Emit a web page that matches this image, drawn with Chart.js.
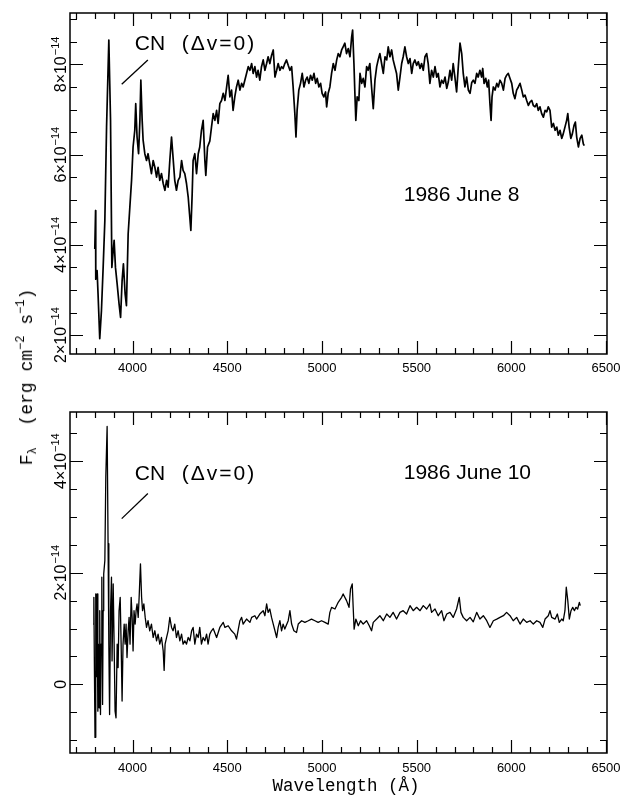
<!DOCTYPE html>
<html>
<head>
<meta charset="utf-8">
<script src="https://cdn.jsdelivr.net/npm/chart.js@4"></script>
<style>
  html, body { margin: 0; padding: 0; background: #fff; }
  body { position: relative; width: 623px; height: 795px; overflow: hidden; }
  canvas { position: absolute; left: 0; }
  #june8 { top: 0; }
  #june10 { top: 395px; }
  #fluxTitle {
    position: absolute; left: 28px; top: 377px;
    transform: translate(-50%, -50%) rotate(-90deg);
    font: 18px "Liberation Mono", monospace; line-height: 20px;
    white-space: pre; color: #000;
  }
  #fluxTitle sub, #fluxTitle sup { font-size: 12px; position: relative; vertical-align: baseline; }
  #fluxTitle sup { top: -0.7em; }
  #fluxTitle sub { top: 0.35em; }
  #waveTitle {
    position: absolute; left: 346px; top: 776px;
    transform: translateX(-50%);
    font: 17.5px "Liberation Mono", monospace; line-height: 20px;
    white-space: pre; color: #000;
  }
</style>
</head>
<body>
<canvas id="june8" width="623" height="395"></canvas>
<canvas id="june10" width="623" height="400"></canvas>
<div id="fluxTitle">F<sub>λ</sub>  (erg cm<sup>−2</sup> s<sup>−1</sup>)</div>
<div id="waveTitle">Wavelength (Å)</div>

<script>
/* ============================================================
   Two spectra, 1986 June 8 and June 10
   flux in units of 1e-14 erg cm^-2 s^-1
   ============================================================ */

// axis ticks
const wavelengthTicks = [4000, 4500, 5000, 5500, 6000, 6500];
const wavelengthMinorStep = 100;
const juneEightFluxTicks = [2, 4, 6, 8];
const juneTenFluxTicks = [0, 2, 4];
const fluxMinorStep = 0.5;

// 1986 June 8
const juneEightWavelength = [
  3801, 3805, 3806, 3813, 3818, 3827, 3836, 3845, 3854, 3863,
  3875, 3884, 3891, 3898, 3903, 3910, 3919, 3929, 3937, 3945,
  3952, 3961, 3968, 3977, 3986, 3995, 4003, 4012, 4017, 4024,
  4032, 4039, 4044, 4051, 4056, 4065, 4074, 4082, 4091, 4100,
  4109, 4118, 4127, 4135, 4144, 4153, 4162, 4171, 4180, 4188,
  4197, 4206, 4214, 4223, 4232, 4241, 4250, 4259, 4267, 4276,
  4285, 4294, 4301, 4308, 4315, 4320, 4329, 4338, 4347, 4355,
  4364, 4373, 4382, 4387, 4396, 4408, 4417, 4426, 4435, 4444,
  4452, 4461, 4470, 4479, 4488, 4497, 4505, 4514, 4523, 4531,
  4540, 4549, 4558, 4567, 4576, 4584, 4593, 4602, 4611, 4620,
  4629, 4637, 4646, 4655, 4663, 4672, 4681, 4690, 4699, 4708,
  4716, 4725, 4734, 4743, 4752, 4761, 4769, 4778, 4787, 4795,
  4804, 4813, 4822, 4831, 4840, 4848, 4857, 4863, 4869, 4878,
  4887, 4896, 4905, 4914, 4922, 4931, 4940, 4949, 4958, 4967,
  4975, 4984, 4993, 5001, 5010, 5019, 5025, 5033, 5042, 5051,
  5060, 5069, 5078, 5086, 5095, 5104, 5112, 5121, 5130, 5139,
  5148, 5157, 5162, 5169, 5174, 5179, 5186, 5195, 5201, 5210,
  5218, 5227, 5236, 5244, 5253, 5262, 5271, 5280, 5289, 5297,
  5306, 5315, 5324, 5333, 5342, 5350, 5359, 5368, 5376, 5385,
  5394, 5403, 5412, 5421, 5429, 5438, 5447, 5456, 5465, 5474,
  5482, 5491, 5500, 5509, 5518, 5526, 5535, 5544, 5553, 5561,
  5570, 5579, 5588, 5597, 5606, 5614, 5623, 5632, 5641, 5650,
  5659, 5667, 5676, 5685, 5693, 5702, 5711, 5720, 5729, 5738,
  5746, 5755, 5764, 5773, 5782, 5791, 5799, 5808, 5817, 5825,
  5834, 5843, 5849, 5856, 5865, 5873, 5880, 5887, 5893, 5898,
  5905, 5914, 5923, 5931, 5940, 5949, 5958, 5967, 5975, 5984,
  5993, 6002, 6010, 6019, 6028, 6037, 6046, 6055, 6063, 6072,
  6081, 6090, 6099, 6108, 6116, 6125, 6134, 6142, 6151, 6160,
  6169, 6178, 6187, 6195, 6204, 6213, 6222, 6231, 6240, 6248,
  6257, 6266, 6274, 6283, 6292, 6298, 6305, 6314, 6322, 6331,
  6338, 6345, 6354, 6363, 6372, 6380, 6385
];
const juneEightFlux = [
  3.91, 4.76, 3.24, 3.43, 2.92, 1.92, 2.54, 3.50, 4.54, 6.61,
  8.54, 6.76, 3.50, 3.87, 4.10, 3.50, 3.13, 2.69, 2.39, 3.20,
  3.58, 2.91, 2.65, 4.24, 4.84, 5.43, 6.17, 6.54, 7.13, 6.39,
  6.02, 6.76, 7.65, 6.76, 6.32, 6.02, 5.87, 6.02, 5.80, 5.58,
  5.87, 5.72, 5.50, 5.72, 5.43, 5.58, 5.36, 5.21, 5.43, 5.28,
  5.87, 6.39, 5.94, 5.43, 5.21, 5.43, 5.50, 5.87, 5.65, 5.58,
  5.36, 5.06, 4.69, 4.32, 5.13, 5.87, 6.02, 5.58, 6.02, 6.17,
  6.54, 6.76, 5.87, 5.54, 6.17, 6.30, 6.61, 6.91, 6.76, 6.98,
  6.69, 7.13, 7.20, 7.36, 7.20, 7.50, 7.76, 7.28, 7.43, 6.98,
  7.28, 7.50, 7.65, 7.43, 7.58, 7.50, 7.65, 7.80, 7.95, 7.87,
  8.02, 7.80, 7.95, 7.72, 7.87, 7.65, 7.95, 8.10, 7.87, 8.02,
  8.17, 8.02, 8.20, 8.32, 7.72, 7.87, 8.02, 7.87, 7.95, 7.91,
  8.02, 8.10, 7.98, 7.87, 7.95, 7.50, 6.91, 6.39, 6.98, 7.43,
  7.58, 7.80, 7.50, 7.65, 7.72, 7.58, 7.76, 7.65, 7.80, 7.58,
  7.69, 7.50, 7.58, 7.36, 7.28, 7.39, 7.06, 7.36, 7.50, 7.80,
  8.02, 7.87, 8.10, 8.24, 8.17, 8.32, 8.39, 8.47, 8.24, 8.35,
  8.17, 8.61, 8.76, 8.02, 7.36, 6.76, 7.28, 7.20, 7.80, 7.58,
  7.69, 7.50, 7.95, 7.87, 8.02, 7.50, 7.02, 7.65, 7.95, 8.10,
  8.24, 8.02, 7.80, 8.17, 8.10, 8.39, 8.17, 8.32, 8.10, 7.95,
  7.80, 7.43, 7.72, 8.02, 8.17, 8.39, 8.17, 8.02, 8.13, 7.80,
  8.02, 8.10, 7.98, 8.06, 7.91, 8.02, 7.87, 8.17, 8.24, 8.02,
  7.58, 7.87, 7.72, 7.95, 7.72, 7.80, 7.50, 7.65, 7.58, 7.72,
  7.47, 7.61, 7.87, 7.65, 8.02, 7.72, 7.39, 7.95, 8.47, 8.24,
  7.80, 7.50, 7.72, 7.43, 7.36, 7.60, 7.65, 7.58, 7.80, 7.72,
  7.87, 7.72, 7.91, 7.58, 7.69, 7.50, 7.65, 7.13, 6.76, 7.28,
  7.50, 7.43, 7.58, 7.50, 7.65, 7.58, 7.43, 7.69, 7.76, 7.80,
  7.69, 7.58, 7.36, 7.24, 7.43, 7.50, 7.58, 7.43, 7.28, 7.32,
  7.20, 7.09, 7.17, 7.20, 7.09, 7.06, 7.13, 6.98, 7.06, 6.91,
  6.83, 6.98, 6.95, 7.06, 6.98, 6.61, 6.69, 6.54, 6.61, 6.43,
  6.54, 6.36, 6.46, 6.61, 6.76, 6.91, 6.61, 6.36, 6.46, 6.65,
  6.72, 6.39, 6.17, 6.36, 6.43, 6.24, 6.20
];

// 1986 June 10
const juneTenWavelength = [
  3792, 3796, 3799, 3802, 3806, 3810, 3813, 3817, 3820, 3824,
  3827, 3831, 3834, 3838, 3842, 3845, 3848, 3854, 3859, 3866,
  3871, 3875, 3879, 3884, 3889, 3892, 3898, 3903, 3908, 3913,
  3919, 3924, 3929, 3935, 3940, 3945, 3950, 3956, 3961, 3966,
  3971, 3977, 3982, 3987, 3993, 3998, 4003, 4008, 4014, 4019,
  4024, 4030, 4035, 4042, 4048, 4053, 4060, 4067, 4074, 4082,
  4091, 4100, 4109, 4118, 4127, 4135, 4144, 4153, 4162, 4167,
  4172, 4180, 4188, 4197, 4206, 4214, 4223, 4232, 4241, 4250,
  4259, 4267, 4276, 4285, 4294, 4303, 4312, 4320, 4329, 4338,
  4347, 4355, 4364, 4373, 4382, 4391, 4399, 4408, 4417, 4426,
  4444, 4461, 4479, 4488, 4505, 4523, 4540, 4549, 4567, 4576,
  4584, 4602, 4620, 4629, 4646, 4655, 4672, 4690, 4699, 4708,
  4716, 4725, 4734, 4743, 4752, 4761, 4769, 4778, 4787, 4795,
  4804, 4822, 4831, 4840, 4852, 4866, 4875, 4893, 4910, 4928,
  4945, 4963, 4980, 4998, 5016, 5033, 5042, 5051, 5069, 5086,
  5104, 5112, 5130, 5143, 5151, 5160, 5165, 5170, 5179, 5192,
  5204, 5218, 5236, 5250, 5262, 5271, 5289, 5306, 5324, 5342,
  5359, 5376, 5394, 5412, 5429, 5447, 5465, 5482, 5500, 5518,
  5535, 5553, 5570, 5579, 5597, 5614, 5632, 5644, 5659, 5676,
  5693, 5711, 5725, 5734, 5746, 5764, 5782, 5799, 5817, 5834,
  5852, 5870, 5887, 5905, 5923, 5940, 5958, 5975, 5993, 6010,
  6028, 6046, 6063, 6081, 6099, 6116, 6134, 6151, 6166, 6178,
  6195, 6204, 6213, 6231, 6243, 6253, 6266, 6274, 6283, 6290,
  6298, 6306, 6315, 6324, 6333, 6341, 6350, 6359, 6364
];
const juneTenFlux = [
  1.08, 1.56, 0.24, -0.95, 1.62, 0.14, 1.62, -0.48, 0.72, -0.42,
  1.32, -0.54, 0.72, 1.92, -0.36, 1.32, 1.98, 2.22, 3.72, 4.62,
  2.52, 0.72, -0.54, 1.32, 1.92, 0.42, 1.80, 0.72, -0.48, -0.60,
  0.72, 0.30, 1.32, 1.56, 0.72, -0.30, 0.72, 1.08, 0.72, 1.08,
  0.48, 0.96, 1.20, 0.72, 1.56, 1.20, 0.60, 1.32, 1.08, 1.32,
  1.44, 1.20, 1.56, 2.16, 1.56, 1.32, 1.44, 1.20, 1.02, 1.14,
  0.96, 1.08, 0.84, 0.96, 0.78, 0.90, 0.72, 0.84, 0.60, 0.25,
  0.72, 0.84, 0.96, 1.20, 1.02, 0.96, 1.08, 0.84, 0.96, 0.78,
  0.90, 0.72, 0.78, 0.72, 0.84, 0.78, 0.96, 1.02, 0.72, 0.90,
  0.84, 1.02, 0.72, 0.84, 0.78, 0.90, 0.72, 0.90, 0.96, 1.00,
  0.84, 1.02, 1.11, 1.02, 1.05, 0.96, 0.90, 0.81, 1.14, 1.20,
  1.08, 1.17, 1.11, 1.20, 1.23, 1.17, 1.26, 1.32, 1.23, 1.44,
  1.29, 1.35, 1.20, 1.08, 0.96, 0.84, 1.02, 1.14, 0.96, 1.08,
  0.99, 1.14, 1.32, 1.08, 0.96, 0.93, 1.08, 1.14, 1.11, 1.14,
  1.17, 1.14, 1.11, 1.14, 1.11, 1.08, 1.29, 1.38, 1.35, 1.47,
  1.56, 1.62, 1.50, 1.38, 1.71, 1.80, 1.38, 0.99, 1.17, 1.05,
  1.14, 1.08, 1.14, 1.05, 0.96, 1.11, 1.17, 1.23, 1.14, 1.26,
  1.20, 1.29, 1.17, 1.29, 1.32, 1.26, 1.41, 1.32, 1.38, 1.32,
  1.41, 1.35, 1.44, 1.29, 1.35, 1.23, 1.32, 1.14, 1.26, 1.29,
  1.20, 1.35, 1.56, 1.29, 1.20, 1.14, 1.20, 1.12, 1.29, 1.17,
  1.23, 1.14, 1.02, 1.14, 1.17, 1.20, 1.23, 1.29, 1.23, 1.14,
  1.20, 1.08, 1.17, 1.11, 1.14, 1.08, 1.14, 1.11, 1.02, 1.17,
  1.23, 1.32, 1.20, 1.17, 1.26, 1.11, 1.17, 1.14, 1.32, 1.74,
  1.50, 1.17, 1.32, 1.38, 1.32, 1.38, 1.35, 1.47, 1.41
];

const FONT = '"Liberation Sans", Arial, Helvetica, sans-serif';

function toPoints(xs, ys) {
  return xs.map((x, i) => ({ x: x, y: ys[i] }));
}

// ---- frame, inward ticks, tick labels and annotations ----
function drawFluxLabel(ctx, value, px, py) {
  ctx.save();
  ctx.translate(px, py);
  ctx.rotate(-Math.PI / 2);
  ctx.textAlign = 'left';
  ctx.textBaseline = 'alphabetic';
  const mainFont = '16px ' + FONT;
  const supFont = '11px ' + FONT;
  if (value === 0) {
    ctx.font = mainFont;
    const w = ctx.measureText('0').width;
    ctx.fillText('0', -w / 2, 0);
  } else {
    const base = value + '×10';
    const exp = '−14';
    ctx.font = mainFont;
    const w1 = ctx.measureText(base).width;
    ctx.font = supFont;
    const w2 = ctx.measureText(exp).width;
    const start = -(w1 + 1 + w2) / 2;
    ctx.font = mainFont;
    ctx.fillText(base, start, 0);
    ctx.font = supFont;
    ctx.fillText(exp, start + w1 + 1, -7);
  }
  ctx.restore();
}

function spectrumFrame(fluxTicks, labelGap, notes) {
  return {
    id: 'spectrumFrame',
    afterDraw(chart) {
      const ctx = chart.ctx;
      const a = chart.chartArea;
      const x = chart.scales.x;
      const y = chart.scales.y;
      ctx.save();
      ctx.strokeStyle = '#000';
      ctx.fillStyle = '#000';

      // box
      ctx.lineWidth = 1.5;
      ctx.strokeRect(a.left, a.top, a.right - a.left, a.bottom - a.top);

      ctx.lineWidth = 1.2;
      ctx.beginPath();
      // wavelength ticks, bottom and top
      const firstW = Math.ceil(x.min / wavelengthMinorStep) * wavelengthMinorStep;
      for (let w = firstW; w <= x.max; w += wavelengthMinorStep) {
        const px = Math.round(x.getPixelForValue(w)) + 0.5;
        const len = wavelengthTicks.includes(w) ? 13 : 6;
        ctx.moveTo(px, a.bottom); ctx.lineTo(px, a.bottom - len);
        ctx.moveTo(px, a.top); ctx.lineTo(px, a.top + len);
      }
      // flux ticks, left and right
      const firstF = Math.ceil(y.min / fluxMinorStep) * fluxMinorStep;
      for (let f = firstF; f <= y.max; f += fluxMinorStep) {
        const py = Math.round(y.getPixelForValue(f)) + 0.5;
        const major = Math.abs(f / 2 - Math.round(f / 2)) < 1e-6;
        const len = major ? 13 : 7;
        ctx.moveTo(a.left, py); ctx.lineTo(a.left + len, py);
        ctx.moveTo(a.right, py); ctx.lineTo(a.right - len, py);
      }
      ctx.stroke();

      // wavelength labels
      ctx.font = '13px ' + FONT;
      ctx.textAlign = 'center';
      ctx.textBaseline = 'top';
      wavelengthTicks.forEach(w => {
        ctx.fillText(String(w), x.getPixelForValue(w), a.bottom + labelGap);
      });

      // flux labels (rotated)
      fluxTicks.forEach(f => drawFluxLabel(ctx, f, a.left - 4, y.getPixelForValue(f)));

      // annotations, placed in data coordinates
      ctx.lineWidth = 1.3;
      ctx.beginPath();
      ctx.moveTo(x.getPixelForValue(notes.line[0]), y.getPixelForValue(notes.line[1]));
      ctx.lineTo(x.getPixelForValue(notes.line[2]), y.getPixelForValue(notes.line[3]));
      ctx.stroke();

      ctx.font = '21px ' + FONT;
      ctx.textAlign = 'left';
      ctx.textBaseline = 'alphabetic';
      ctx.fillText('CN', x.getPixelForValue(notes.cn[0]), y.getPixelForValue(notes.cn[1]));
      if ('letterSpacing' in ctx) ctx.letterSpacing = '2px';
      ctx.fillText('(Δv=0)', x.getPixelForValue(notes.band[0]), y.getPixelForValue(notes.cn[1]));
      if ('letterSpacing' in ctx) ctx.letterSpacing = '0px';

      ctx.textAlign = 'center';
      ctx.textBaseline = 'middle';
      ctx.fillText(notes.date, x.getPixelForValue(notes.datePos[0]), y.getPixelForValue(notes.datePos[1]));
      ctx.restore();
    }
  };
}

function makeSpectrum(canvasId, xs, ys, yMin, yMax, padTop, axisHeight, fluxTicks, labelGap, notes, lineWidth) {
  return new Chart(document.getElementById(canvasId), {
    type: 'scatter',
    data: {
      datasets: [{
        data: toPoints(xs, ys),
        showLine: true,
        borderColor: '#000',
        borderWidth: lineWidth,
        borderJoinStyle: 'round',
        pointRadius: 0,
        tension: 0
      }]
    },
    options: {
      responsive: false,
      animation: false,
      events: [],
      layout: { padding: { left: 0, right: 16, top: padTop, bottom: 0 } },
      plugins: {
        legend: { display: false },
        tooltip: { enabled: false }
      },
      scales: {
        x: {
          type: 'linear',
          min: 3670,
          max: 6505,
          ticks: { display: false },
          grid: { display: false, drawTicks: false },
          border: { display: false },
          afterFit: s => { s.height = axisHeight; }
        },
        y: {
          type: 'linear',
          min: yMin,
          max: yMax,
          ticks: { display: false },
          grid: { display: false, drawTicks: false },
          border: { display: false },
          afterFit: s => { s.width = 70; }
        }
      }
    },
    plugins: [spectrumFrame(fluxTicks, labelGap, notes)]
  });
}

document.addEventListener('DOMContentLoaded', () => {
  makeSpectrum('june8', juneEightWavelength, juneEightFlux, 1.58, 9.14, 13, 41,
    juneEightFluxTicks, 8,
    { line: [3943, 7.56, 4081, 8.10], cn: [4012, 8.32], band: [4260],
      date: '1986 June 8', datePos: [5737, 5.09] }, 1.7);

  makeSpectrum('june10', juneTenWavelength, juneTenFlux, -1.23, 4.88, 17, 42,
    juneTenFluxTicks, 9,
    { line: [3943, 2.97, 4081, 3.42], cn: [4012, 3.67], band: [4260],
      date: '1986 June 10', datePos: [5768, 3.79] }, 1.3);
});
</script>
</body>
</html>
